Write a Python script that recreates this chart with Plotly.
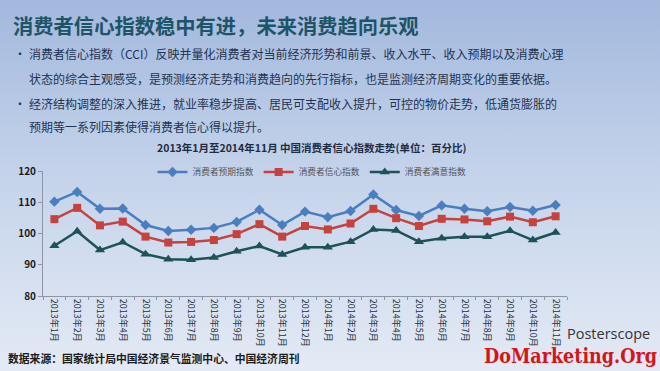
import base64
import plotly.graph_objects as go

# ---- data ----
months = ["2013年1月", "2013年2月", "2013年3月", "2013年4月", "2013年5月", "2013年6月",
          "2013年7月", "2013年8月", "2013年9月", "2013年10月", "2013年11月", "2013年12月",
          "2014年1月", "2014年2月", "2014年3月", "2014年4月", "2014年5月", "2014年6月",
          "2014年7月", "2014年8月", "2014年9月", "2014年10月", "2014年11月"]
expectation = [110.2, 113.3, 107.9, 108.0, 102.7, 100.8, 101.2, 101.8, 103.7, 107.6, 102.7, 107.0,
               105.2, 107.2, 112.5, 107.5, 105.6, 109.0, 107.9, 107.1, 108.5, 107.3, 109.1]
confidence = [104.6, 108.2, 102.6, 103.8, 99.0, 97.1, 97.3, 97.9, 99.8, 103.0, 99.0, 102.4,
              101.3, 103.2, 107.9, 104.9, 102.4, 104.7, 104.5, 103.9, 105.4, 103.6, 105.5]
satisfaction = [96.1, 100.7, 94.7, 97.2, 93.4, 91.8, 91.6, 92.3, 94.3, 96.0, 93.3, 95.6,
                95.6, 97.4, 101.3, 101.0, 97.4, 98.5, 99.0, 99.0, 100.9, 97.9, 100.3]
series_names = ["消费者预期指数", "消费者信心指数", "消费者满意指数"]
y_ticks = [80, 90, 100, 110, 120]

W, H = 660, 371
L, R, T, B = 43, 567, 171, 296   # plot area in pixels

def px(x):
    return (x - L) / (R - L)

def py(y):
    return (B - y) / (B - T)

svg = ('<svg xmlns="http://www.w3.org/2000/svg" width="660" height="371">'
       '<defs><linearGradient id="g" x1="0" y1="0" x2="0" y2="1">'
       '<stop offset="0" stop-color="#a2b8dd"/>'
       '<stop offset="0.45" stop-color="#c3d2ea"/>'
       '<stop offset="1" stop-color="#e4eaf5"/>'
       '</linearGradient></defs>'
       '<rect width="660" height="371" fill="url(#g)"/></svg>')
bg_src = "data:image/svg+xml;base64," + base64.b64encode(svg.encode()).decode()

fig = go.Figure()
styles = [
    dict(color="#4a7ebf", symbol="diamond", size=8),
    dict(color="#c5433f", symbol="square", size=8),
    dict(color="#1e5257", symbol="triangle-up", size=9),
]
for name, vals, st in zip(series_names, [expectation, confidence, satisfaction], styles):
    fig.add_trace(go.Scatter(
        x=months, y=vals, name=name, mode="lines+markers",
        line=dict(color=st["color"], width=2.5),
        marker=dict(symbol=st["symbol"], size=st["size"], color=st["color"]),
    ))

cjk = "Noto Sans CJK SC"
ann = []
ann.append(dict(text="<b>消费者信心指数稳中有进，未来消费趋向乐观</b>", x=px(11), y=py(25),
                xanchor="left", yanchor="middle", font=dict(family=cjk, size=20.3, color="#1d5467")))
bullet_lines = [
    ("•", 12, 53), ("消费者信心指数（CCI）反映并量化消费者对当前经济形势和前景、收入水平、收入预期以及消费心理", 27, 53),
    ("状态的综合主观感受，是预测经济走势和消费趋向的先行指标，也是监测经济周期变化的重要依据。", 27, 78),
    ("•", 12, 103), ("经济结构调整的深入推进，就业率稳步提高、居民可支配收入提升，可控的物价走势，低通货膨胀的", 27, 103),
    ("预期等一系列因素使得消费者信心得以提升。", 27, 127),
]
for txt, x, y in bullet_lines:
    ann.append(dict(text=txt, x=px(x), y=py(y), xanchor="left", yanchor="middle",
                    font=dict(family=cjk, size=12.0, color="#1f3352")))
ann.append(dict(text="<b>2013年1月至2014年11月 中国消费者信心指数走势(单位：百分比)</b>", x=px(311), y=py(147),
                xanchor="center", yanchor="middle", font=dict(family=cjk, size=10.5, color="#1f2d44")))
ann.append(dict(text="<b>数据来源：国家统计局中国经济景气监测中心、中国经济周刊</b>", x=px(6), y=py(358),
                xanchor="left", yanchor="middle", font=dict(family=cjk, size=10.8, color="#1a1a1a")))
ann.append(dict(text="Posterscope", x=px(565), y=py(333), xanchor="left", yanchor="middle",
                font=dict(family="Open Sans", size=14.5, color="#333333")))
ann.append(dict(text="<b>DoMarketing.Org</b>", x=px(570), y=py(356), xanchor="center", yanchor="middle",
                font=dict(family="DejaVu Serif Condensed", size=19.5, color="#d6151b")))
for a in ann:
    a.update(xref="paper", yref="paper", showarrow=False)

fig.update_layout(
    width=W, height=H,
    margin=dict(l=L, r=W - R, t=T, b=H - B),
    paper_bgcolor="#c8d5ec", plot_bgcolor="rgba(0,0,0,0)",
    annotations=ann,
    images=[dict(source=bg_src, xref="paper", yref="paper",
                 x=-L / (R - L), y=1 + T / (B - T), sizex=W / (R - L), sizey=H / (B - T),
                 xanchor="left", yanchor="top", sizing="stretch", layer="below")],
    showlegend=True,
    legend=dict(orientation="h", x=px(312), y=py(172), xanchor="center", yanchor="middle",
                font=dict(family=cjk, size=8.7, color="#555555"), bgcolor="rgba(0,0,0,0)",
                itemwidth=30),
    xaxis=dict(type="category", showgrid=False, showline=True, linecolor="#8c96a6", linewidth=1,
               ticks="outside", tickson="boundaries", ticklen=3, tickcolor="#8c96a6",
               tickangle=90, tickfont=dict(family=cjk, size=9, color="#24303f"),
               range=[-0.5, len(months) - 0.5]),
    yaxis=dict(range=[80, 120], tickvals=y_ticks, showgrid=False, showline=True,
               linecolor="#8c96a6", linewidth=1, ticks="outside", ticklen=4, tickcolor="#8c96a6",
               tickfont=dict(family=cjk, size=10, color="#1a1a1a", weight="bold"), zeroline=False),
)

fig.write_html("out.html", config={"displayModeBar": False},
               post_script="document.body.style.margin='0';document.body.style.overflow='hidden';")
